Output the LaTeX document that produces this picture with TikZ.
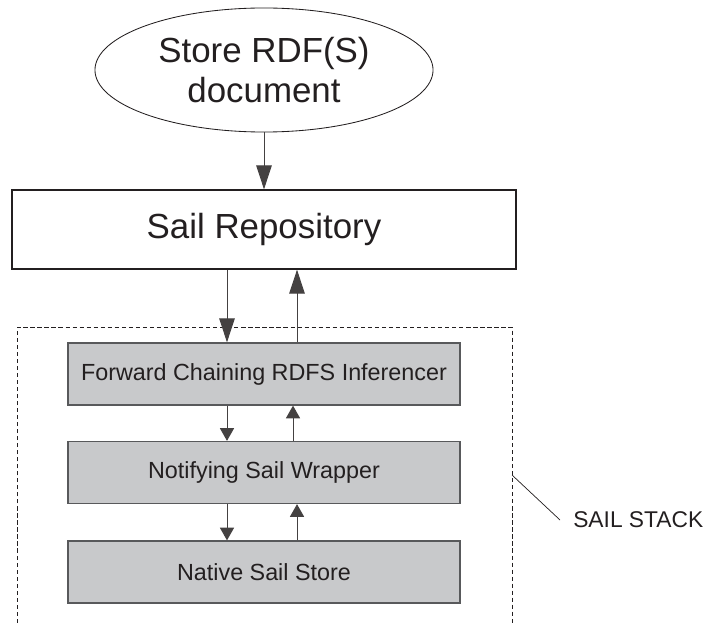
\documentclass[tikz,border=0pt]{standalone}
\usepackage{fontspec}
\setmainfont{Liberation Sans}
\usetikzlibrary{shapes.geometric,arrows.meta}
\definecolor{sailGrey}{RGB}{200,201,203}
\definecolor{sailEdge}{RGB}{88,89,91}
\definecolor{sailInk}{RGB}{35,31,32}

\tikzset{
  layer/.style={draw=sailEdge, fill=sailGrey, line width=0.9pt, minimum width=9.8cm,
    minimum height=1.55cm, inner sep=0pt, text=sailInk, font=\fontsize{16.6}{19}\selectfont},
  bigflow/.style={draw=sailInk!85, line width=0.7pt, -{Triangle[length=17pt,width=11pt]}},
  flow/.style={draw=sailInk!85, line width=0.7pt, -{Triangle[length=9pt,width=10pt]}},
}

\begin{document}
\begin{tikzpicture}[x=0.025cm, y=-0.025cm]
\useasboundingbox (0,0) rectangle (709,623);
% Input document and repository
\node[ellipse, draw=sailInk, line width=0.6pt, minimum width=8.45cm, minimum height=3.1cm,
  inner sep=0pt, align=center, text=sailInk, font=\fontsize{24.8}{28.3}\selectfont]
  (store) at (264,70) {Store RDF(S)\\document};
\node[draw=sailInk, line width=0.9pt, minimum width=12.6cm, minimum height=1.975cm,
  text=sailInk, font=\fontsize{24.8}{28}\selectfont] (repo) at (264,229.5) {Sail Repository};

% Sail stack
\node[layer] (fwd) at (264,374) {Forward Chaining RDFS Inferencer};
\node[layer] (notify) at (264,472.5) {Notifying Sail Wrapper};
\node[layer] (native) at (264,572) {Native Sail Store};
\draw[sailInk, line width=0.6pt, dash pattern=on 3pt off 2pt]
  (17,623) -- (17,327) -- (512,327) -- (512,623);
\coordinate (stackedge) at (512,475);
\node[anchor=west, inner xsep=0.325cm, inner ysep=0pt, text=sailInk,
  font=\fontsize{16.2}{19}\selectfont] (stacklabel) at (560,520) {SAIL STACK};
\draw[sailInk, line width=0.5pt] (stackedge) -- (stacklabel.west);

% Calls down, results up
\draw[bigflow] (store) -- (repo);
\draw[bigflow] ([xshift=-0.925cm]repo.south) -- ([xshift=-0.925cm]fwd.north);
\draw[bigflow] ([xshift=0.825cm]fwd.north) -- ([xshift=0.825cm]repo.south);
\foreach \upper/\lower/\rise in {fwd/notify/0.725cm, notify/native/0.825cm} {
  \draw[flow] ([xshift=-0.925cm]\upper.south) -- ([xshift=-0.925cm]\lower.north);
  \draw[flow] ([xshift=\rise]\lower.north) -- ([xshift=\rise]\upper.south);
}
\end{tikzpicture}
\end{document}
